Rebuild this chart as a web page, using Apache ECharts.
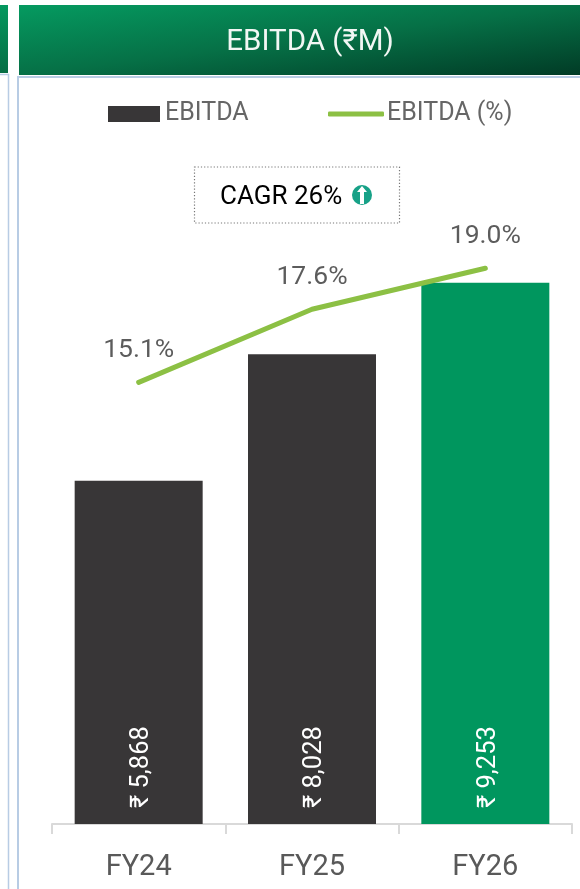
<!DOCTYPE html>
<html><head><meta charset="utf-8">
<style>html,body{margin:0;padding:0;background:#fff}#c{width:580px;height:889px}</style>
<script src="https://cdn.jsdelivr.net/npm/echarts@6/dist/echarts.min.js"></script>
</head><body><div id="c"></div>
<script>
const categories = ['FY24', 'FY25', 'FY26'];
const ebitda = [5868, 8028, 9253];
const ebitdaPct = [15.1, 17.6, 19.0];
const titleText = 'EBITDA (₹M)';
const cagrText = 'CAGR 26%';
const FONT = 'Roboto, "Noto Sans", sans-serif';
const chart = echarts.init(document.getElementById('c'), null, {renderer:'canvas'});
const grad = (x2,y2)=>new echarts.graphic.LinearGradient(0,0,x2,y2,[
  {offset:0,color:'#059A60'},{offset:0.5,color:'#067046'},{offset:1,color:'#013A25'}]);
chart.setOption({
  animation:false,
  backgroundColor:'#fff',
  title:{text:titleText,left:305,top:23,textAlign:'center',
    textStyle:{color:'#F2F7F4',fontFamily:FONT,fontSize:29.5,fontWeight:'normal'}},
  legend:[
    {data:['EBITDA'],left:103,top:95,padding:[5,5,5,5],itemWidth:52,itemHeight:16,icon:'rect',
      textStyle:{color:'#666',fontFamily:FONT,fontSize:25,lineHeight:28}},
    {data:['EBITDA (%)'],left:323,top:95,itemWidth:56,itemHeight:5,icon:'roundRect',
      itemStyle:{color:'#8CC044'},
      textStyle:{color:'#666',fontFamily:FONT,fontSize:25,lineHeight:28,padding:[0,0,0,-2]}}
  ],
  grid:{left:52,right:8,top:122,bottom:65,containLabel:false},
  xAxis:{type:'category',data:categories,
    axisLine:{lineStyle:{color:'#D9D9D9',width:2}},
    axisTick:{show:true,length:10,alignWithLabel:false,lineStyle:{color:'#D9D9D9',width:2}},
    axisLabel:{color:'#595959',fontFamily:FONT,fontSize:29,margin:29}},
  yAxis:[
    {type:'value',min:0,max:12000,show:false,splitLine:{show:false}},
    {type:'value',min:0,max:24,show:false,splitLine:{show:false}}
  ],
  series:[
    {name:'EBITDA',type:'bar',barWidth:128,yAxisIndex:0,
      data:ebitda.map((v,i)=>({value:v,itemStyle:{color:i===2?'#00965E':'#383637'}})),
      itemStyle:{color:'#383637'},
      label:{show:true,position:'insideBottom',rotate:90,align:'left',verticalAlign:'middle',distance:16,offset:[0,3],
        color:'#fff',fontFamily:FONT,fontSize:25.5,
        formatter:p=>'₹ '+p.value.toLocaleString('en-US')}},
    {name:'EBITDA (%)',type:'line',yAxisIndex:1,data:ebitdaPct,
      lineStyle:{color:'#8CC044',width:5,cap:'round',join:'round'},
      itemStyle:{color:'#8CC044'},showSymbol:false,symbol:'none',z:5},
    {type:'scatter',yAxisIndex:1,data:ebitdaPct,symbolSize:0,silent:true,z:6,
      label:{show:true,position:'top',distance:18,color:'#333',fontFamily:FONT,fontSize:26.5,
        formatter:p=>p.value.toFixed(1)+'%'}}
  ],
  graphic:[
    {type:'rect',silent:true,z:-1,shape:{x:19,y:5,width:561,height:70},style:{fill:grad(0.03,1.97)}},
    {type:'rect',silent:true,z:-1,shape:{x:-100,y:5,width:108,height:68},style:{fill:grad(0.03,1.97)}},
    {type:'line',silent:true,z:-1,shape:{x1:18,y1:77,x2:580,y2:77},style:{stroke:'#B8CCE4',lineWidth:2}},
    {type:'line',silent:true,z:-1,shape:{x1:18,y1:76,x2:18,y2:889},style:{stroke:'#B8CCE4',lineWidth:2}},
    {type:'line',silent:true,z:-1,shape:{x1:0,y1:74.5,x2:9,y2:74.5},style:{stroke:'#B8CCE4',lineWidth:1.5}},
    {type:'line',silent:true,z:-1,shape:{x1:8.5,y1:74,x2:8.5,y2:889},style:{stroke:'#B8CCE4',lineWidth:1.5}},
    {type:'rect',silent:true,shape:{x:194.5,y:167,width:205,height:56},
      style:{fill:'#fff',stroke:'#777',lineWidth:1.2,lineDash:[1.2,2]}},
    {type:'text',silent:true,x:220,y:184,style:{text:cagrText,fill:'#000',font:'26px '+FONT}},
    {type:'circle',silent:true,shape:{cx:362,cy:195,r:10},style:{fill:'#17A187'}},
    {type:'polygon',silent:true,shape:{points:[[362,186],[367,192],[364,192],[364,204],[360,204],[360,192],[357,192]]},style:{fill:'#fff'}}
  ]
});
</script></body></html>
